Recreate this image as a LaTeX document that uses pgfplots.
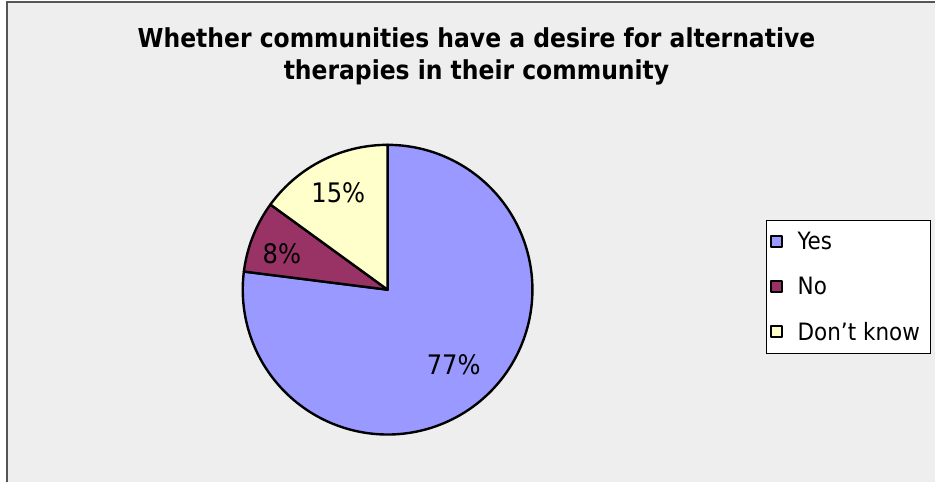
\documentclass[border=0pt]{standalone}
\usepackage{fontspec}
\setmainfont{DejaVu Sans Condensed}[BoldFont={DejaVu Sans Condensed Bold}]
\usepackage{pgfplots}
\usepgfplotslibrary{polar}
\pgfplotsset{compat=1.18}
\definecolor{bg}{HTML}{EEEEEE}
\definecolor{yescol}{HTML}{9999FF}
\definecolor{nocol}{HTML}{993366}
\definecolor{dkcol}{HTML}{FFFFCC}
\definecolor{framecol}{HTML}{555555}
% shares in percent
\def\vYes{77}
\def\vNo{8}
\def\vDk{15}
\begin{document}
\begin{tikzpicture}[x=1bp,y=1bp]
\pgfmathsetmacro\aA{90}
\pgfmathsetmacro\aB{90-3.6*\vYes}
\pgfmathsetmacro\aC{\aB-3.6*\vNo}
\pgfmathsetmacro\aD{\aC-3.6*\vDk}
\pgfmathsetmacro\mA{(\aA+\aB)/2}
\pgfmathsetmacro\mB{(\aB+\aC)/2}
\pgfmathsetmacro\mC{(\aC+\aD)/2}
\fill[white] (0,0) rectangle (936,483);
\fill[bg] (8,0) rectangle (936,480.5);
\draw[framecol, line width=2bp] (7.5,0) -- (7.5,481) -- (936,481);
\node[font=\bfseries\fontsize{26.2}{32}\selectfont, anchor=base] at (477,435) {Whether communities have a desire for alternative};
\node[font=\bfseries\fontsize{26.2}{32}\selectfont, anchor=base] at (477,403) {therapies in their community};
\begin{polaraxis}[hide axis, scale only axis, width=290bp, height=290bp,
  ymin=0, ymax=1, at={(388bp,193bp)}, anchor=center, clip=false,
  legend style={at={(1.807,0.741)}, anchor=north west, draw=black, line width=1bp,
    fill=white, font=\fontsize{24}{27}\selectfont, inner xsep=3bp, inner ysep=10bp,
    row sep=22bp, /tikz/every odd column/.append style={column sep=13bp}},
  legend cell align=left,
  legend image code/.code={\draw[#1, draw=black, line width=2bp] (0bp,-5.5bp) rectangle (11bp,5.5bp);},
  ]
\addplot[fill=yescol, draw=black, line width=2.4bp, line join=round, domain=\aB:\aA, samples=200] {1} -- (axis cs:0,0) -- cycle;
\addlegendentry{Yes}
\addplot[fill=nocol, draw=black, line width=2.4bp, line join=round, domain=\aC:\aB, samples=40] {1} -- (axis cs:0,0) -- cycle;
\addlegendentry{No}
\addplot[fill=dkcol, draw=black, line width=2.4bp, line join=round, domain=\aD:\aC, samples=60] {1} -- (axis cs:0,0) -- cycle;
\addlegendentry{Don't know\hspace*{6bp}}
\node[font=\fontsize{27}{30}\selectfont] at (axis cs:\mA,0.69) {77\%};
\node[font=\fontsize{27}{30}\selectfont] at (axis cs:\mB+3,0.77) {8\%};
\node[font=\fontsize{27}{30}\selectfont] at (axis cs:\mC,0.75) {15\%};
\end{polaraxis}
\end{tikzpicture}
\end{document}
